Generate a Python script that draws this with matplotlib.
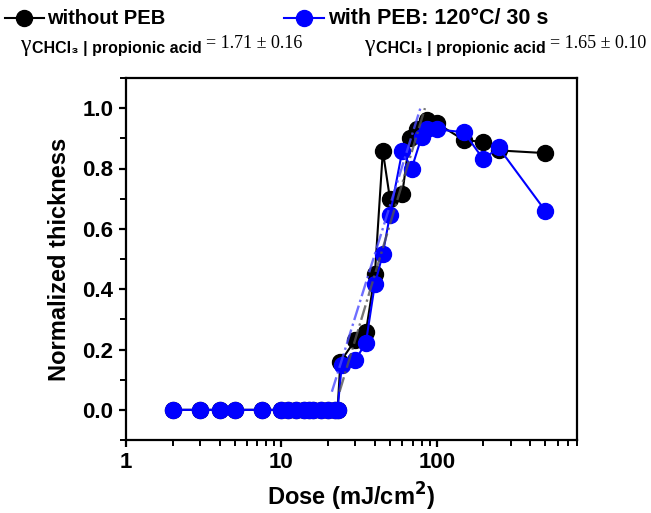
import numpy as np
import matplotlib
matplotlib.use("Agg")
import matplotlib.pyplot as plt
from matplotlib.ticker import MultipleLocator, LogLocator, FixedLocator, FixedFormatter

plt.rcParams['font.family'] = ['Liberation Sans', 'DejaVu Sans']

# ---- data ----
zero_dose = [2, 3, 4, 5, 7.5, 10, 11, 12.5, 14, 15, 16, 18, 20, 22, 23]
zero_thk = [0.0] * len(zero_dose)

nopeb_dose = zero_dose + [24, 30, 35, 40, 45, 50, 60, 67, 75, 87, 100, 150, 200, 250, 500]
nopeb_thk = zero_thk + [0.16, 0.232, 0.258, 0.45, 0.858, 0.70, 0.715, 0.90, 0.93, 0.96, 0.95,
                        0.894, 0.888, 0.86, 0.851]

peb_dose = zero_dose + [24.5, 30, 35, 40, 45, 50, 60, 69, 80, 87, 100, 150, 200, 250, 500]
peb_thk = zero_thk + [0.149, 0.166, 0.222, 0.417, 0.517, 0.646, 0.858, 0.80, 0.905, 0.93, 0.93,
                      0.92, 0.83, 0.87, 0.66]

gamma_nopeb = 1.71
gamma_peb = 1.65
d100_nopeb = 84.0
d100_peb = 78.5

xtick_vals = [1, 10, 100]
xtick_labels = ['1', '10', '100']
ytick_vals = [0.0, 0.2, 0.4, 0.6, 0.8, 1.0]
ytick_labels = ['0.0', '0.2', '0.4', '0.6', '0.8', '1.0']

fig = plt.figure(figsize=(6.51, 5.13), dpi=100)
ax = fig.add_axes([126 / 651, 1 - 440 / 513, 451 / 651, 362 / 513])

ax.plot(nopeb_dose, nopeb_thk, '-o', color='black', lw=1.5, ms=11.5,
        mfc='black', mec='black', zorder=3)
ax.plot(peb_dose, peb_thk, '-o', color='#0000ff', lw=1.5, ms=11.5,
        mfc='#0000ff', mec='#0000ff', zorder=4)

# contrast fit lines
yy = np.linspace(0.06, 1.0, 50)
d0_nopeb = d100_nopeb / 10 ** (1 / gamma_nopeb)
d0_peb = d100_peb / 10 ** (1 / gamma_peb)
ax.plot(d0_nopeb * 10 ** (yy / gamma_nopeb), yy, linestyle='-.', color='#555555',
        lw=1.7, alpha=0.8, zorder=5)
ax.plot(d0_peb * 10 ** (yy / gamma_peb), yy, linestyle='-.', color='#4a4aff',
        lw=1.7, alpha=0.8, zorder=5)

ax.set_xscale('log')
ax.set_xlim(1, 800)
ax.set_ylim(-0.1, 1.1)

ax.xaxis.set_major_locator(FixedLocator(xtick_vals))
ax.xaxis.set_major_formatter(FixedFormatter(xtick_labels))
ax.xaxis.set_minor_locator(LogLocator(base=10, subs=np.arange(2, 10)))
ax.xaxis.set_minor_formatter(plt.NullFormatter())
ax.yaxis.set_major_locator(FixedLocator(ytick_vals))
ax.yaxis.set_major_formatter(FixedFormatter(ytick_labels))
ax.yaxis.set_minor_locator(MultipleLocator(0.1))

for s in ax.spines.values():
    s.set_linewidth(1.6)
ax.tick_params(which='major', direction='out', length=5, width=1.6,
               labelsize=16, pad=4)
ax.tick_params(which='minor', direction='out', length=4, width=1.4)
ax.tick_params(axis='both', which='both', top=False, right=False)
for lab in ax.get_xticklabels() + ax.get_yticklabels():
    lab.set_fontweight('bold')

ax.set_xlabel('Dose (mJ/cm$^\\mathbf{2}$)', fontsize=17, fontweight='bold', labelpad=5)
ax.set_ylabel('Normalized thickness', fontsize=17, fontweight='bold', labelpad=8)

# ---- legend at the top (overlay in pixel coordinates) ----
ov = fig.add_axes([0, 0, 1, 1], facecolor='none')
ov.set_xlim(0, 651)
ov.set_ylim(513, 0)
ov.axis('off')

ov.plot([5, 44], [18, 18], color='black', lw=1.5)
ov.plot([24], [18], 'o', color='black', ms=11.5)
ov.text(47, 18, 'without PEB', fontsize=14.5, fontweight='bold', va='center', ha='left')

ov.plot([284, 324], [18, 18], color='#0000ff', lw=1.5)
ov.plot([304], [18], 'o', color='#0000ff', ms=11.5)
ov.text(328, 18, 'with PEB: 120\u00b0C/ 30 s', fontsize=15.5, fontweight='bold',
        va='center', ha='left')


def gamma_line(x0, y0, value):
    g = ov.text(x0, y0, '\u03b3', fontsize=17, family=['Liberation Serif', 'DejaVu Serif'],
                va='baseline', ha='left')
    s = ov.annotate('CHCl\u2083 | propionic acid', xy=(1, 0), xycoords=g,
                    xytext=(1, 0), textcoords='offset points', fontsize=11.5,
                    fontweight='bold', va='bottom', ha='left')
    ov.annotate('= ' + value, xy=(1, 0), xycoords=s, xytext=(3, 3),
                textcoords='offset points', fontsize=13,
                family=['Liberation Serif', 'DejaVu Serif'], va='bottom', ha='left')


gamma_line(20, 51, '1.71 \u00b1 0.16')
gamma_line(364, 51, '1.65 \u00b1 0.10')

fig.savefig('out.png', dpi=100)
